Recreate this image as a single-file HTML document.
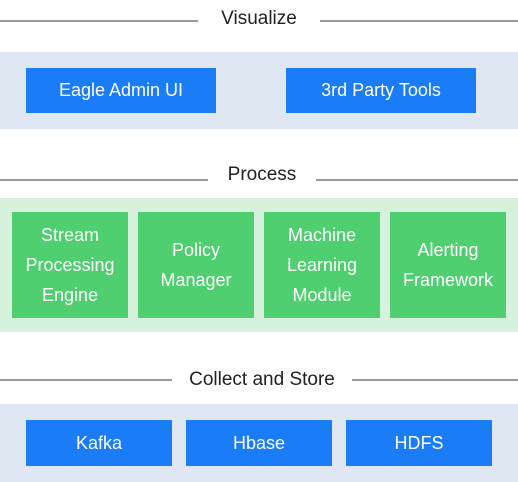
<!DOCTYPE html>
<html><head><style>
body{margin:0;width:518px;height:482px;background:#fff;position:relative;overflow:hidden;font-family:"Liberation Sans",sans-serif;}
div{position:absolute;box-sizing:border-box}
.l{height:2px;background:#9a9a9a}
.t{font-size:19px;color:#222;line-height:24px;text-align:center}
.bb{background:#dfe7f3}
.gb{background:#d6f2dd}
.b{background:#1a7cf7;color:#fff;font-size:18px;display:flex;align-items:center;justify-content:center;text-align:center}
.g{background:#4fcf6f;color:#fff;font-size:18px;line-height:30px;display:flex;align-items:center;justify-content:center;text-align:center}
</style></head><body>
<div class="l" style="left:0;width:198px;top:20px"></div>
<div class="t" style="left:198px;width:122px;top:7px">Visualize</div>
<div class="l" style="left:320px;width:198px;top:20px"></div>
<div class="bb" style="left:0;width:518px;top:52px;height:77px"></div>
<div class="b" style="left:26px;width:190px;top:68px;height:45px">Eagle Admin UI</div>
<div class="b" style="left:286px;width:190px;top:68px;height:45px">3rd Party Tools</div>

<div class="l" style="left:0;width:208px;top:179px"></div>
<div class="t" style="left:208px;width:108px;top:163px">Process</div>
<div class="l" style="left:316px;width:202px;top:179px"></div>
<div class="gb" style="left:0;width:518px;top:198px;height:134px"></div>
<div class="g" style="left:12px;width:116px;top:212px;height:106px">Stream<br>Processing<br>Engine</div>
<div class="g" style="left:138px;width:116px;top:212px;height:106px">Policy<br>Manager</div>
<div class="g" style="left:264px;width:116px;top:212px;height:106px">Machine<br>Learning<br>Module</div>
<div class="g" style="left:390px;width:116px;top:212px;height:106px">Alerting<br>Framework</div>

<div class="l" style="left:0;width:172px;top:379px"></div>
<div class="t" style="left:172px;width:180px;top:368px">Collect and Store</div>
<div class="l" style="left:352px;width:166px;top:379px"></div>
<div class="bb" style="left:0;width:518px;top:404px;height:78px"></div>
<div class="b" style="left:26px;width:146px;top:420px;height:46px">Kafka</div>
<div class="b" style="left:186px;width:146px;top:420px;height:46px">Hbase</div>
<div class="b" style="left:346px;width:146px;top:420px;height:46px">HDFS</div>
</body></html>
